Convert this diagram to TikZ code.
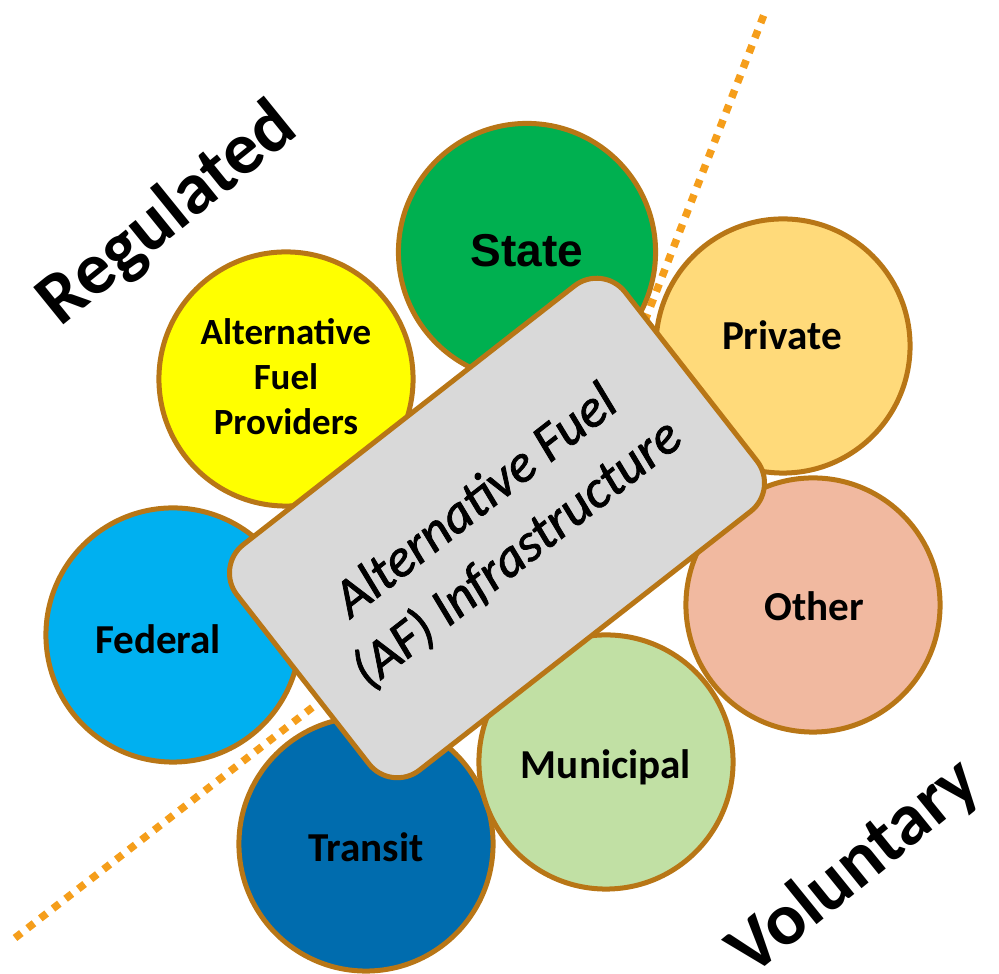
\documentclass[tikz,border=0pt]{standalone}
\usepackage{fontspec}
\setmainfont{Carlito}
\newfontfamily\statefont{Liberation Sans}
\newfontfamily\hubfont[ItalicFeatures={FakeBold=1.5}]{Carlito}

\definecolor{rim}{RGB}{184,118,22}
\definecolor{divider}{RGB}{245,158,27}
\definecolor{hubgray}{RGB}{217,217,217}
\definecolor{stategreen}{RGB}{0,176,80}
\definecolor{privategold}{RGB}{255,218,122}
\definecolor{othersalmon}{RGB}{241,185,160}
\definecolor{municipalgreen}{RGB}{193,224,164}
\definecolor{transitblue}{RGB}{0,108,174}
\definecolor{federalblue}{RGB}{0,176,240}
\definecolor{provideryellow}{RGB}{255,255,0}

\begin{document}
\begin{tikzpicture}[x=0.01cm, y=-0.01cm,
    party/.style={circle, draw=rim, line width=0.05cm, minimum size=2.54cm, inner sep=0pt},
    tag/.style={font=\bfseries\fontsize{11.7}{14}\selectfont},
    side/.style={font=\bfseries\fontsize{21}{25}\selectfont, rotate=39},
    hub/.style={rectangle, draw=rim, fill=hubgray, line width=0.05cm, rounded corners=0.36cm,
                minimum width=4.92cm, minimum height=2.86cm, rotate=38, align=center,
                font=\hubfont\itshape\fontsize{15.3}{19}\selectfont},
    divide/.style={draw=divider, line width=0.075cm, dash pattern=on 0.08cm off 0.08cm}]
  \useasboundingbox (0,0) rectangle (999,974);

  % dotted line between the two sides
  \draw[divide] (15,938) -- (300,717) .. controls (573,506) .. (655,295) -- (765,12);

  % the stakeholder circles
  \node[party, fill=stategreen, minimum size=2.57cm] (state) at (527,252) {};
  \node[party, fill=privategold] (private) at (783,346) {};
  \node[party, fill=othersalmon] (other) at (813,605) {};
  \node[party, fill=provideryellow] (afp) at (286,379) {};
  \node[party, fill=federalblue] (federal) at (173,635) {};
  \node[party, fill=transitblue] (transit) at (366,844) {};
  \node[party, fill=municipalgreen] (municipal) at (606,762) {};

  \node[font=\statefont\bfseries\fontsize{13.1}{15}\selectfont] (statetxt) at (527,251) {State};
  \node[tag] (privatetxt) at (782,335) {Private};
  \node[tag] (othertxt) at (814,606) {Other};
  \node[tag, align=center, font=\bfseries\fontsize{10.5}{12.8}\selectfont] (afptxt) at (286,377)
       {Alternative\\Fuel\\Providers};
  \node[tag] (federaltxt) at (158,639) {Federal};
  \node[tag] (transittxt) at (366,847) {Transit};
  \node[tag] (municipaltxt) at (606,767) {Municipal};

  % infrastructure box on top
  \node[hub] (afi) at (497,528) {Alternative Fuel\\(AF) Infrastructure};

  \node[side] (regulated) at (168,215) {Regulated};
  \node[side] (voluntary) at (855,868) {Voluntary};
\end{tikzpicture}
\end{document}
